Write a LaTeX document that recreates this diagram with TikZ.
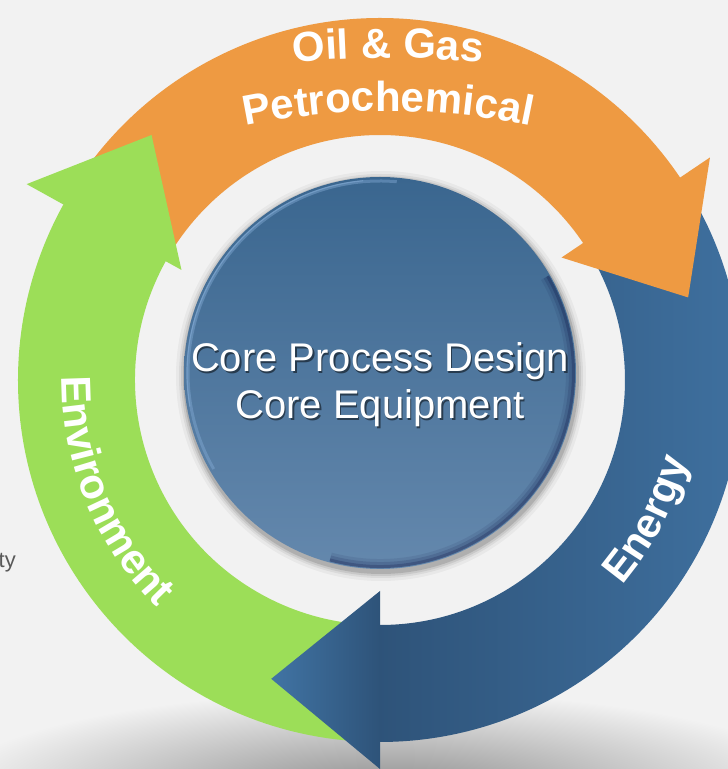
\documentclass[tikz,border=0pt]{standalone}
\usepackage{fontspec}
\setmainfont{Liberation Sans}
\setsansfont{Liberation Sans}
\usetikzlibrary{decorations.text,calc}
\definecolor{bgc}{RGB}{242,242,242}
\definecolor{orng}{RGB}{238,154,66}
\definecolor{grn}{RGB}{156,222,88}
\definecolor{blueL}{RGB}{65,116,164}
\definecolor{blueD}{RGB}{46,83,121}
\definecolor{discT}{RGB}{58,102,143}
\definecolor{discB}{RGB}{100,136,173}
\definecolor{rimL}{RGB}{130,170,212}
\definecolor{tygray}{RGB}{89,89,89}
\newcommand\labfont{\fontsize{42}{46}\selectfont\bfseries}
\newcommand\corefont{\fontsize{40}{47}\selectfont}
\tikzset{
  curvlab/.style={decorate, decoration={text along path, text align=center, text color=white, text={#1}}},
  coretext/.style={font=\corefont, anchor=base, inner sep=0pt},
}
\begin{document}
\begin{tikzpicture}[x=1pt,y=1pt]
\useasboundingbox (0,0) rectangle (728,769);
\fill[bgc] (0,0) rectangle (728,769);
\begin{scope}
\clip (0,0) rectangle (728,769);
% ground shadow
\shade[inner color=gray!90, outer color=bgc] (385,-22) ellipse[x radius=440, y radius=100];
% partial text at left edge
\node[font=\fontsize{22}{26}\selectfont, text=tygray, anchor=base east, inner sep=0pt] (ty) at (16,201) {ty};
% ring arrows
\begin{scope}[shift={(380,389)}]
  % shafts
  \fill[orng] (148:362) arc[start angle=148,end angle=33.5,radius=362] -- (33.5:245) arc[start angle=33.5,end angle=148,radius=245] -- cycle;
  \shade[left color=blueD, right color=blueL] (30:362) arc[start angle=30,end angle=-90.5,radius=362] -- (-90.5:245) arc[start angle=-90.5,end angle=30,radius=245] -- cycle;
  \fill[grn] (267:362) arc[start angle=267,end angle=150.5,radius=362] -- (150.5:245) arc[start angle=150.5,end angle=267,radius=245] -- cycle;
  % heads
  \fill[orng] (34:398) -- (15:319) -- (34:219) -- cycle;
  \shade[left color=blueL, right color=blueD] (270:389) -- (250:318) -- (270:211) -- cycle;
  \fill[grn] (151:404) -- (133:335) -- (151:227) -- cycle;
  % curved labels
  \path[curvlab={|\labfont|Environment}] (170:318) arc[start angle=170,end angle=235,radius=318];
  \path[curvlab={|\labfont|Energy}] (-60:318) arc[start angle=-60,end angle=5,radius=318];
\end{scope}
\path[curvlab={|\labfont|Oil {\&} Gas}] (388,-289) ++(99:1000) arc[start angle=99,end angle=81,radius=1000];
\path[curvlab={|\labfont|Petrochemical}] (388,-42) ++(105:700) arc[start angle=105,end angle=75,radius=700];
% central disc
\begin{scope}[shift={(380,396)}]
  \foreach \i/\o in {9/0.04,6/0.06,4/0.08,2/0.12} \fill[black,opacity=\o] (1,-3) circle[radius=196+\i];
  \shade[top color=discT, bottom color=discB] (0,0) circle[radius=196];
  \draw[rimL, line width=3, opacity=0.45] (85:192) arc[start angle=85,end angle=210,radius=192];
  \draw[rimL, line width=1.2, opacity=0.6] (95:193) arc[start angle=95,end angle=190,radius=193];
  \foreach \w/\o in {9/0.08,6/0.12,3/0.2} \draw[black!80!blue, line width=\w, opacity=\o] (-105:195-\w/2) arc[start angle=-105,end angle=30,radius=195-\w/2];
\end{scope}
\node[coretext, text=black, opacity=0.5] (s1) at (381.5,395.5) {Core Process Design};
\node[coretext, text=black, opacity=0.5] (s2) at (381.5,348.5) {Core Equipment};
\node[coretext, text=white] (t1) at (380,397) {Core Process Design};
\node[coretext, text=white] (t2) at (380,350) {Core Equipment};
\end{scope}
\end{tikzpicture}
\end{document}
